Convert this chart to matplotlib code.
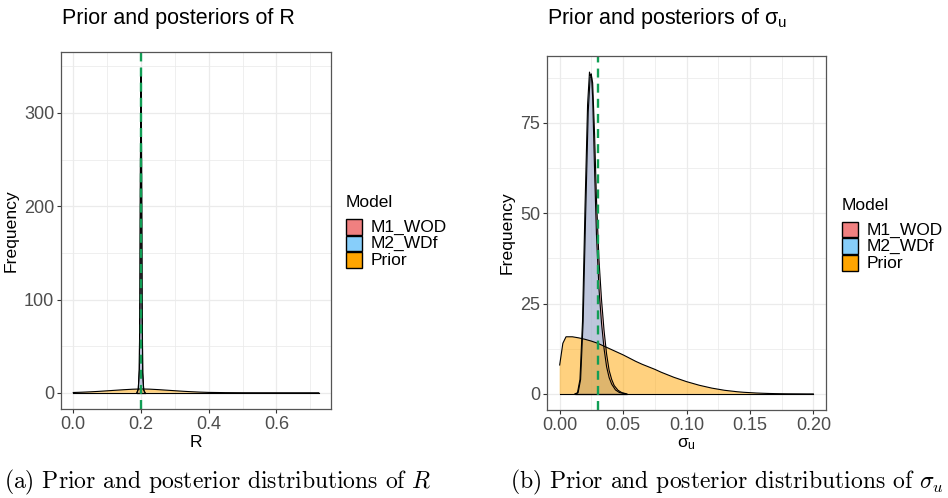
import matplotlib
matplotlib.use("Agg")
import matplotlib.pyplot as plt
from matplotlib.patches import Rectangle

# Density curves
R_PRIOR_X = [0.000, 0.025, 0.050, 0.075, 0.100, 0.125, 0.150, 0.175, 0.200, 0.225,
             0.250, 0.275, 0.300, 0.325, 0.350, 0.375, 0.400, 0.450, 0.500, 0.550,
             0.600, 0.650, 0.700, 0.725]
R_PRIOR_Y = [0.3, 0.6, 1.0, 1.5, 2.1, 2.7, 3.3, 3.8, 4.1, 3.9,
             3.4, 2.8, 2.2, 1.6, 1.1, 0.7, 0.4, 0.15, 0.05, 0.02,
             0.01, 0.0, 0.0, 0.0]
R_M1_X = [0.188, 0.192, 0.195, 0.197, 0.1985, 0.200, 0.2015, 0.203, 0.205, 0.208, 0.212]
R_M1_Y = [0.0, 4.0, 25.0, 110.0, 260.0, 348.0, 255.0, 105.0, 22.0, 3.0, 0.0]
R_M2_X = [0.188, 0.192, 0.195, 0.197, 0.1987, 0.2003, 0.2018, 0.2033, 0.2053, 0.208, 0.212]
R_M2_Y = [0.0, 4.0, 24.0, 105.0, 255.0, 345.0, 250.0, 100.0, 21.0, 3.0, 0.0]

SIGMA_PRIOR_X = [0.000, 0.0025, 0.005, 0.010, 0.015, 0.020, 0.025, 0.030, 0.035, 0.040,
                 0.045, 0.050, 0.055, 0.060, 0.065, 0.070, 0.075, 0.080, 0.085, 0.090,
                 0.095, 0.100, 0.105, 0.110, 0.115, 0.120, 0.125, 0.130, 0.135, 0.140,
                 0.145, 0.150, 0.155, 0.160, 0.165, 0.170, 0.175, 0.180, 0.185, 0.190,
                 0.195, 0.200]
SIGMA_PRIOR_Y = [8.0, 14.0, 15.8, 15.8, 15.5, 15.1, 14.6, 14.0, 13.2, 12.4,
                 11.6, 10.8, 9.9, 9.0, 8.2, 7.5, 6.8, 6.0, 5.3, 4.6,
                 4.0, 3.4, 2.9, 2.4, 2.0, 1.6, 1.3, 1.0, 0.8, 0.6,
                 0.45, 0.35, 0.25, 0.18, 0.12, 0.08, 0.05, 0.03, 0.02, 0.01,
                 0.0, 0.0]
SIGMA_M1_X = [0.0125, 0.0145, 0.0165, 0.0185, 0.0205, 0.0225, 0.0240, 0.0250, 0.0260,
              0.0275, 0.0290, 0.0310, 0.0330, 0.0350, 0.0370, 0.0390, 0.0410, 0.0430,
              0.0460, 0.0490, 0.0530]
SIGMA_M1_Y = [0.0, 0.3, 4.0, 20.0, 50.0, 78.0, 87.5, 88.0, 86.0, 72.0, 54.0, 37.0,
              26.0, 17.5, 11.0, 6.5, 4.0, 2.3, 1.0, 0.35, 0.0]
SIGMA_M2_X = [0.0120, 0.0140, 0.0160, 0.0180, 0.0200, 0.0220, 0.0235, 0.0242, 0.0250,
              0.0260, 0.0275, 0.0290, 0.0310, 0.0330, 0.0350, 0.0370, 0.0390, 0.0410,
              0.0440, 0.0470, 0.0520]
SIGMA_M2_Y = [0.0, 0.3, 4.0, 20.0, 52.0, 80.0, 89.0, 88.0, 88.5, 82.0, 62.0, 44.0,
              29.0, 19.5, 12.5, 7.5, 4.5, 2.7, 1.1, 0.4, 0.0]

R_TRUE = 0.2
SIGMA_TRUE = 0.03

MODEL_LABELS = ["M1_WOD", "M2_WDf", "Prior"]
MODEL_COLOURS = ["#F08080", "#87CEFA", "#FFA500"]
VLINE_COLOUR = "#119E55"
FIG_W, FIG_H = 948, 498


def style_axes(ax, xticks, xminor, yticks, yminor, xtick_labels):
    ax.set_xticks(xticks)
    ax.set_xticklabels(xtick_labels)
    ax.set_xticks(xminor, minor=True)
    ax.set_yticks(yticks)
    ax.set_yticks(yminor, minor=True)
    ax.grid(True, which="major", color="#EBEBEB", linewidth=0.9)
    ax.grid(True, which="minor", color="#EBEBEB", linewidth=0.55)
    ax.set_axisbelow(True)
    ax.tick_params(which="major", length=2.8, width=0.8, color="#333333",
                   labelsize=13, labelcolor="#4D4D4D", pad=2)
    ax.tick_params(which="minor", length=0)
    for spine in ax.spines.values():
        spine.set_color("#555555")
        spine.set_linewidth(0.9)


def build_panel(ax, curves, true_value, xlabel, xticks, xminor, yticks, yminor,
                xtick_labels):
    # Draw in factor order: M1, M2, then prior on top
    ymax = 0
    xmin, xmax = 1e9, -1e9
    for (xs, ys), colour in zip(curves, MODEL_COLOURS):
        ax.fill_between(xs, 0, ys, facecolor=colour, alpha=0.5, linewidth=0)
        ax.plot(xs, ys, color="black", linewidth=0.8)
        ax.plot([xs[0], xs[-1]], [0, 0], color="black", linewidth=0.8)
        ymax = max(ymax, max(ys))
        xmin, xmax = min(xmin, min(xs)), max(xmax, max(xs))

    ax.axvline(true_value, color=VLINE_COLOUR, linewidth=1.7, linestyle=(0, (3.8, 2.6)))

    # ggplot style 5% expansion
    xpad = 0.05 * (xmax - xmin)
    ypad = 0.05 * ymax
    ax.set_xlim(xmin - xpad, xmax + xpad)
    ax.set_ylim(-ypad, ymax + ypad)

    style_axes(ax, xticks, xminor, yticks, yminor, xtick_labels)
    ax.set_xlabel(xlabel, fontsize=12.6, labelpad=2)
    ax.set_ylabel("Frequency", fontsize=12.6, labelpad=4)


def add_legend(fig, x_px, y_px):
    # ggplot-like legend: title, then flush square keys with labels
    key = 15.5
    fig.text(x_px / FIG_W, 1 - y_px / FIG_H, "Model", fontsize=12.5,
             ha="left", va="top")
    top = y_px + 24
    for i, (label, colour) in enumerate(zip(MODEL_LABELS, MODEL_COLOURS)):
        y0 = top + i * (key + 1)
        fig.add_artist(Rectangle((x_px / FIG_W, 1 - (y0 + key) / FIG_H),
                                 key / FIG_W, key / FIG_H,
                                 transform=fig.transFigure, facecolor=colour,
                                 edgecolor="black", linewidth=1.0))
        fig.text((x_px + key + 9) / FIG_W, 1 - (y0 + key / 2 + 0.5) / FIG_H, label,
                 fontsize=12.5, ha="left", va="center")


def main() -> None:
    plt.rcParams["font.family"] = ["Liberation Sans", "DejaVu Sans"]

    fig = plt.figure(figsize=(FIG_W / 100, FIG_H / 100), dpi=100)

    ax1 = fig.add_axes([61 / FIG_W, 1 - 409 / FIG_H, 270 / FIG_W, 357 / FIG_H])
    build_panel(
        ax1,
        [(R_M1_X, R_M1_Y), (R_M2_X, R_M2_Y), (R_PRIOR_X, R_PRIOR_Y)],
        R_TRUE,
        "R",
        [0.0, 0.2, 0.4, 0.6],
        [0.1, 0.3, 0.5, 0.7],
        [0, 100, 200, 300],
        [50, 150, 250, 350],
        ["0.0", "0.2", "0.4", "0.6"],
    )
    add_legend(fig, 346, 195)

    ax2 = fig.add_axes([547 / FIG_W, 1 - 410 / FIG_H, 279 / FIG_W, 354 / FIG_H])
    build_panel(
        ax2,
        [(SIGMA_M1_X, SIGMA_M1_Y), (SIGMA_M2_X, SIGMA_M2_Y), (SIGMA_PRIOR_X, SIGMA_PRIOR_Y)],
        SIGMA_TRUE,
        r"$\mathregular{\sigma_u}$",
        [0.0, 0.05, 0.10, 0.15, 0.20],
        [0.025, 0.075, 0.125, 0.175],
        [0, 25, 50, 75],
        [12.5, 37.5, 62.5, 87.5],
        ["0.00", "0.05", "0.10", "0.15", "0.20"],
    )
    add_legend(fig, 842, 198)

    # Titles placed like ggplot (left-aligned with the panel)
    fig.text(62 / FIG_W, 1 - 24 / FIG_H, "Prior and posteriors of R",
             fontsize=15.5, ha="left", va="baseline")
    fig.text(547 / FIG_W, 1 - 24 / FIG_H, r"Prior and posteriors of $\mathregular{\sigma_u}$",
             fontsize=15.5, ha="left", va="baseline")

    # LaTeX-style subfigure captions
    fig.text(4 / FIG_W, 1 - 482 / FIG_H, "(a) Prior and posterior distributions of $R$",
             family="cmr10", math_fontfamily="cm", fontsize=17, ha="left", va="center")
    fig.text(944 / FIG_W, 1 - 482 / FIG_H,
             r"(b) Prior and posterior distributions of $\sigma_u$",
             family="cmr10", math_fontfamily="cm", fontsize=17, ha="right", va="center")

    fig.savefig("out.png", dpi=100)


if __name__ == "__main__":
    main()
